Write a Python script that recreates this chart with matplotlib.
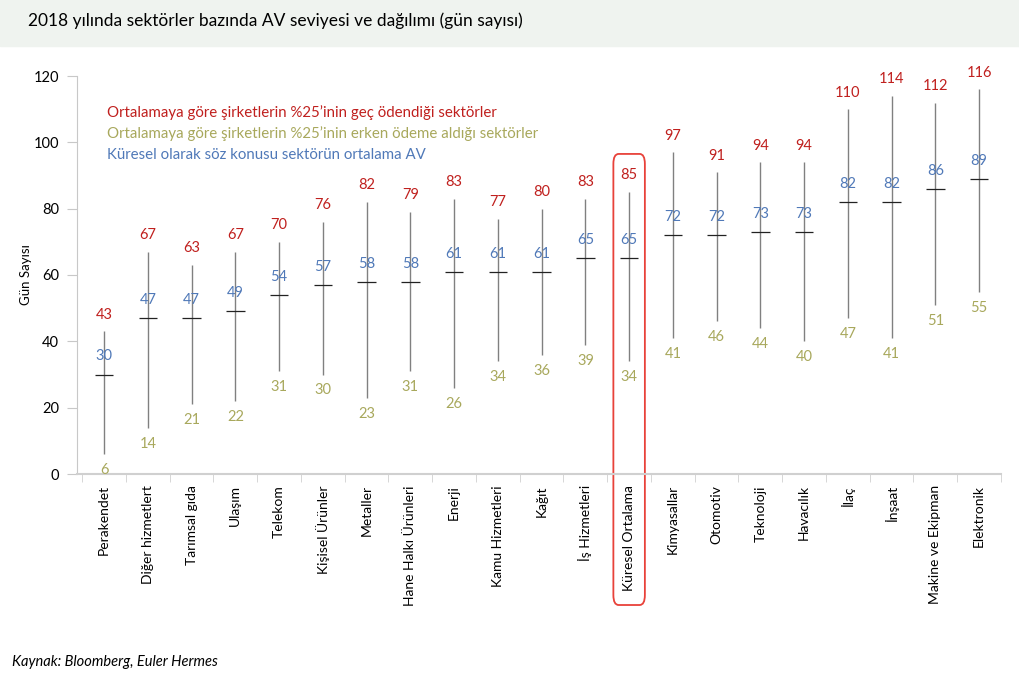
import matplotlib.pyplot as plt
from matplotlib.patches import Rectangle, FancyBboxPatch

plt.rcParams["font.family"] = ["Lato", "DejaVu Sans"]

sectors = ["Perakendet", "Diğer hizmetlert", "Tarımsal gıda", "Ulaşım", "Telekom",
           "Kişisel Ürünler", "Metaller", "Hane Halkı Ürünleri", "Enerji",
           "Kamu Hizmetleri", "Kağıt", "İş Hizmetleri", "Küresel Ortalama",
           "Kimyasallar", "Otomotiv", "Teknoloji", "Havacılık", "İlaç", "İnşaat",
           "Makine ve Ekipman", "Elektronik"]
high = [43, 67, 63, 67, 70, 76, 82, 79, 83, 77, 80, 83, 85, 97, 91, 94, 94, 110, 114, 112, 116]
mean = [30, 47, 47, 49, 54, 57, 58, 58, 61, 61, 61, 65, 65, 72, 72, 73, 73, 82, 82, 86, 89]
low = [6, 14, 21, 22, 31, 30, 23, 31, 26, 34, 36, 39, 34, 41, 46, 44, 40, 47, 41, 51, 55]

red = "#c0201e"
olive = "#a8a85c"
blue = "#5079b8"

fig = plt.figure(figsize=(10.2, 6.82), dpi=100)
fig.patches.append(Rectangle((0, 1 - 46 / 682), 1, 46 / 682, transform=fig.transFigure,
                             color="#eff3ef", zorder=0))
fig.text(28 / 1020, 1 - 21 / 682, "2018 yılında sektörler bazında AV seviyesi ve dağılımı (gün sayısı)",
         fontsize=12.5, va="center", ha="left")

ax = fig.add_axes([77 / 1020, 1 - 474 / 682, (1001 - 77) / 1020, (474 - 76) / 682])
x = list(range(len(sectors)))

ax.vlines(x, low, high, color="#808080", lw=1.0)
ax.hlines(mean, [i - 0.21 for i in x], [i + 0.21 for i in x], color="#222222", lw=0.9)

for i in x:
    ax.annotate(str(high[i]), (i, high[i]), xytext=(0, 12), textcoords="offset points",
                ha="center", va="center", color=red, fontsize=10.5)
    ax.annotate(str(mean[i]), (i, mean[i]), xytext=(0, 13), textcoords="offset points",
                ha="center", va="center", color=blue, fontsize=10.5)
    ax.annotate(str(low[i]), (i, low[i]), xytext=(0, -11.5), textcoords="offset points",
                ha="center", va="center", color=olive, fontsize=10.5)

ax.set_xlim(-0.62, 20.47)
ax.set_ylim(0, 120)
ax.set_yticks(range(0, 121, 20))
ax.set_xticks(x)
ax.set_xticklabels(sectors, rotation=90, fontsize=10)
ax.set_xticks([i + 0.5 for i in range(-1, len(sectors))], minor=True)
ax.tick_params(axis="x", which="major", length=0, pad=8)
ax.tick_params(axis="x", which="minor", length=6, color="#d0d0d0")
ax.tick_params(axis="y", length=7, color="#c8c8c8", labelsize=10.5, pad=6)
for s in ["top", "right"]:
    ax.spines[s].set_visible(False)
ax.spines["left"].set_color("#c8c8c8")
ax.spines["bottom"].set_color("#d0d0d0")
ax.spines["bottom"].set_linewidth(1.5)
ax.set_ylabel("Gün Sayısı", fontsize=9.5)
ax.yaxis.set_label_coords(-0.049, 0.5)

ax.text(0.033, 0.907, "Ortalamaya göre şirketlerin %25’inin geç ödendiği sektörler",
        transform=ax.transAxes, color=red, fontsize=10.8, va="center")
ax.text(0.033, 0.855, "Ortalamaya göre şirketlerin %25’inin erken ödeme aldığı sektörler",
        transform=ax.transAxes, color=olive, fontsize=10.8, va="center")
ax.text(0.033, 0.802, "Küresel olarak söz konusu sektörün ortalama AV",
        transform=ax.transAxes, color=blue, fontsize=10.8, va="center")

box = FancyBboxPatch((11.64, -39.5), 0.72, 136, boxstyle="round,pad=0,rounding_size=0.12",
                     mutation_aspect=25, fill=False, ec="#e8423a", lw=1.3, clip_on=False)
ax.add_patch(box)

fig.text(12 / 1020, 1 - 662 / 682, "Kaynak: Bloomberg, Euler Hermes", fontsize=10.5,
         style="italic", va="center")

fig.savefig("out.png", dpi=100)
